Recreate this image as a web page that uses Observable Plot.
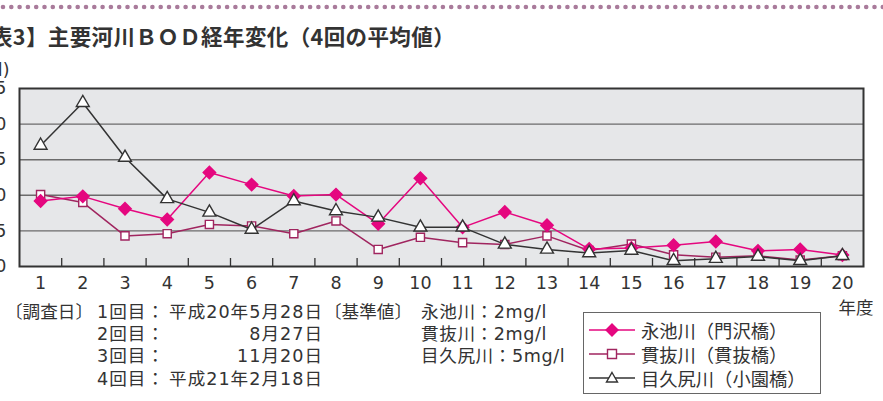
<!DOCTYPE html>
<html><head><meta charset="utf-8">
<script src="https://cdn.jsdelivr.net/npm/d3@7"></script>
<script src="https://cdn.jsdelivr.net/npm/@observablehq/plot@0.6"></script>
<style>
html,body{margin:0;padding:0;background:#fff;}
#wrap{position:relative;width:883px;height:401px;overflow:hidden;font-family:"DejaVu Sans","Noto Sans CJK JP",sans-serif;color:#333;}
#dots{position:absolute;left:0;top:2px;}
#title{position:absolute;left:-31px;top:20px;font-family:"Noto Sans CJK JP",sans-serif;font-size:21.5px;font-weight:700;white-space:nowrap;letter-spacing:0.4px;}
#chart{position:absolute;left:-40px;top:55px;}
.t{position:absolute;font-size:17.6px;white-space:nowrap;line-height:1;}
#legend{position:absolute;left:583px;top:312px;width:238px;height:82px;border:1px solid #666;box-sizing:border-box;background:#fff;}
.li{position:absolute;left:5px;height:24px;display:flex;align-items:center;font-size:18.3px;white-space:nowrap;}
.li svg{margin-right:6px;}
</style></head>
<body>
<div id="wrap">
  <svg id="dots" width="883" height="10"><line x1="3" x2="883" y1="5" y2="5" stroke="#a97b9b" stroke-width="4.6" stroke-linecap="round" stroke-dasharray="0 8.3"/></svg>
  <div id="title">【表3】主要河川ＢＯＤ経年変化（4回の平均値）</div>
  <div id="chart"></div>
  <div class="t" style="left:5px;top:304px;">〔調査日〕</div>
  <div id="legend"></div>
</div>
<script>
const years = [1,2,3,4,5,6,7,8,9,10,11,12,13,14,15,16,17,18,19,20];
const yTicks = [0,5,10,15,20,25];
const nagaike = [9.2,9.85,8.1,6.6,13.2,11.5,9.9,10.1,6.0,12.4,5.5,7.65,5.8,2.45,2.6,3.0,3.5,2.2,2.4,1.6];
const nukinuki = [10.1,9.0,4.3,4.6,5.9,5.7,4.6,6.4,2.4,4.1,3.35,3.1,4.3,2.25,3.15,1.65,1.3,1.5,0.9,1.5];
const mekujiri = [17.0,23.0,15.3,9.5,7.6,5.2,9.2,7.8,6.9,5.5,5.5,3.1,2.4,1.9,2.25,0.8,1.1,1.4,0.8,1.5];
const seriesNames = ["永池川（門沢橋）","貫抜川（貫抜橋）","目久尻川（小園橋）"];
const surveyRounds = ["1回目：","2回目：","3回目：","4回目："];
const surveyDates = ["平成20年5月28日","8月27日","11月20日","平成21年2月18日"];
const standards = ["永池川：2mg/l","貫抜川：2mg/l","目久尻川：5mg/l"];
const unitLabel = "(mg/l)";
const xUnit = "年度";

const styles = [
  {stroke:"#e5077f", fill:"#e5077f", symbol:"diamond2", r:5.6},
  {stroke:"#a0255f", fill:"#fff", symbol:"square", r:4.6},
  {stroke:"#333", fill:"#fff", symbol:"triangle", r:4.8}
];
const allSeries = [nagaike, nukinuki, mekujiri];
const rows = (vals) => years.map((y,i)=>({year:y, v:vals[i]}));
const mids = years.slice(0,-1).map(y=>y+0.5);

const drawOrder = [1,0,2];
const seriesMarks = drawOrder.flatMap(k => [
  Plot.line(rows(allSeries[k]), {x:"year", y:"v", stroke:styles[k].stroke, strokeWidth:1.5}),
  Plot.dot(rows(allSeries[k]), {x:"year", y:"v", symbol:styles[k].symbol, r:styles[k].r, fill:styles[k].fill, stroke:styles[k].stroke, strokeWidth:1.4})
]);

const chart = Plot.plot({
  width: 923, height: 265,
  marginLeft: 59, marginRight: 20, marginTop: 33, marginBottom: 54,
  style: {background:"transparent", fontFamily:'"DejaVu Sans","Noto Sans CJK JP",sans-serif', fontSize:"17.5px", color:"#333", overflow:"visible"},
  x: {domain:[0.5,20.5], ticks: years, tickFormat: d=>String(d), tickSize:0, tickPadding:10, label:null},
  y: {domain:[0,25], ticks: yTicks, tickSize:0, tickPadding:13, label:null},
  marks: [
    Plot.frame({fill:"#e6e7e9"}),
    Plot.ruleY(yTicks.slice(1,-1), {stroke:"#6b6b6b", strokeWidth:1.4}),
    Plot.ruleX(mids, {insetTop:170, stroke:"#333", strokeWidth:1.3}),
    ...seriesMarks,
    Plot.frame({stroke:"#333", strokeWidth:2}),
    Plot.text([unitLabel], {frameAnchor:"top-left", textAnchor:"end", dx:-10, dy:-25, fontSize:17.5}),
    Plot.text([xUnit], {frameAnchor:"bottom-right", textAnchor:"end", dx:10, dy:47, fontSize:17.5, fontFamily:"Noto Sans CJK JP"})
  ]
});
document.getElementById("chart").appendChild(chart);

// survey text
const wrap = document.getElementById("wrap");
const rowTops = [304, 326, 348, 371];
surveyRounds.forEach((r,i)=>{
  const a = document.createElement("div"); a.className="t"; a.style.left="97px"; a.style.top=rowTops[i]+"px"; a.style.letterSpacing="1px"; a.textContent=r; wrap.appendChild(a);
  const b = document.createElement("div"); b.className="t"; b.style.right=(883-323)+"px"; b.style.top=rowTops[i]+"px"; b.style.letterSpacing="1px"; b.textContent=surveyDates[i]; wrap.appendChild(b);
});
const kj = document.createElement("div"); kj.className="t"; kj.style.left="324px"; kj.style.top=rowTops[0]+"px"; kj.textContent="〔基準値〕"; wrap.appendChild(kj);
standards.forEach((s,i)=>{
  const a = document.createElement("div"); a.className="t"; a.style.left="421px"; a.style.top=rowTops[i]+"px"; a.textContent=s; a.style.letterSpacing="0.6px"; wrap.appendChild(a);
});

// legend
const legend = document.getElementById("legend");
const symPaths = {
  diamond2: "M0,-6L6,0L0,6L-6,0Z",
  square: "M-4.5,-4.5h9v9h-9Z",
  triangle: "M0,-5.5L5.5,4L-5.5,4Z"
};
const legTops = [5, 29, 53];
seriesNames.forEach((n,i)=>{
  const st = styles[i];
  const d = document.createElement("div"); d.className="li"; d.style.top=legTops[i]+"px";
  d.innerHTML = `<svg width="46" height="16"><line x1="0" x2="46" y1="8" y2="8" stroke="${st.stroke}" stroke-width="1.6"/><path transform="translate(23,8)" d="${symPaths[st.symbol]}" fill="${st.fill}" stroke="${st.stroke}" stroke-width="1.4"/></svg><span>${n}</span>`;
  legend.appendChild(d);
});
</script>
</body></html>
